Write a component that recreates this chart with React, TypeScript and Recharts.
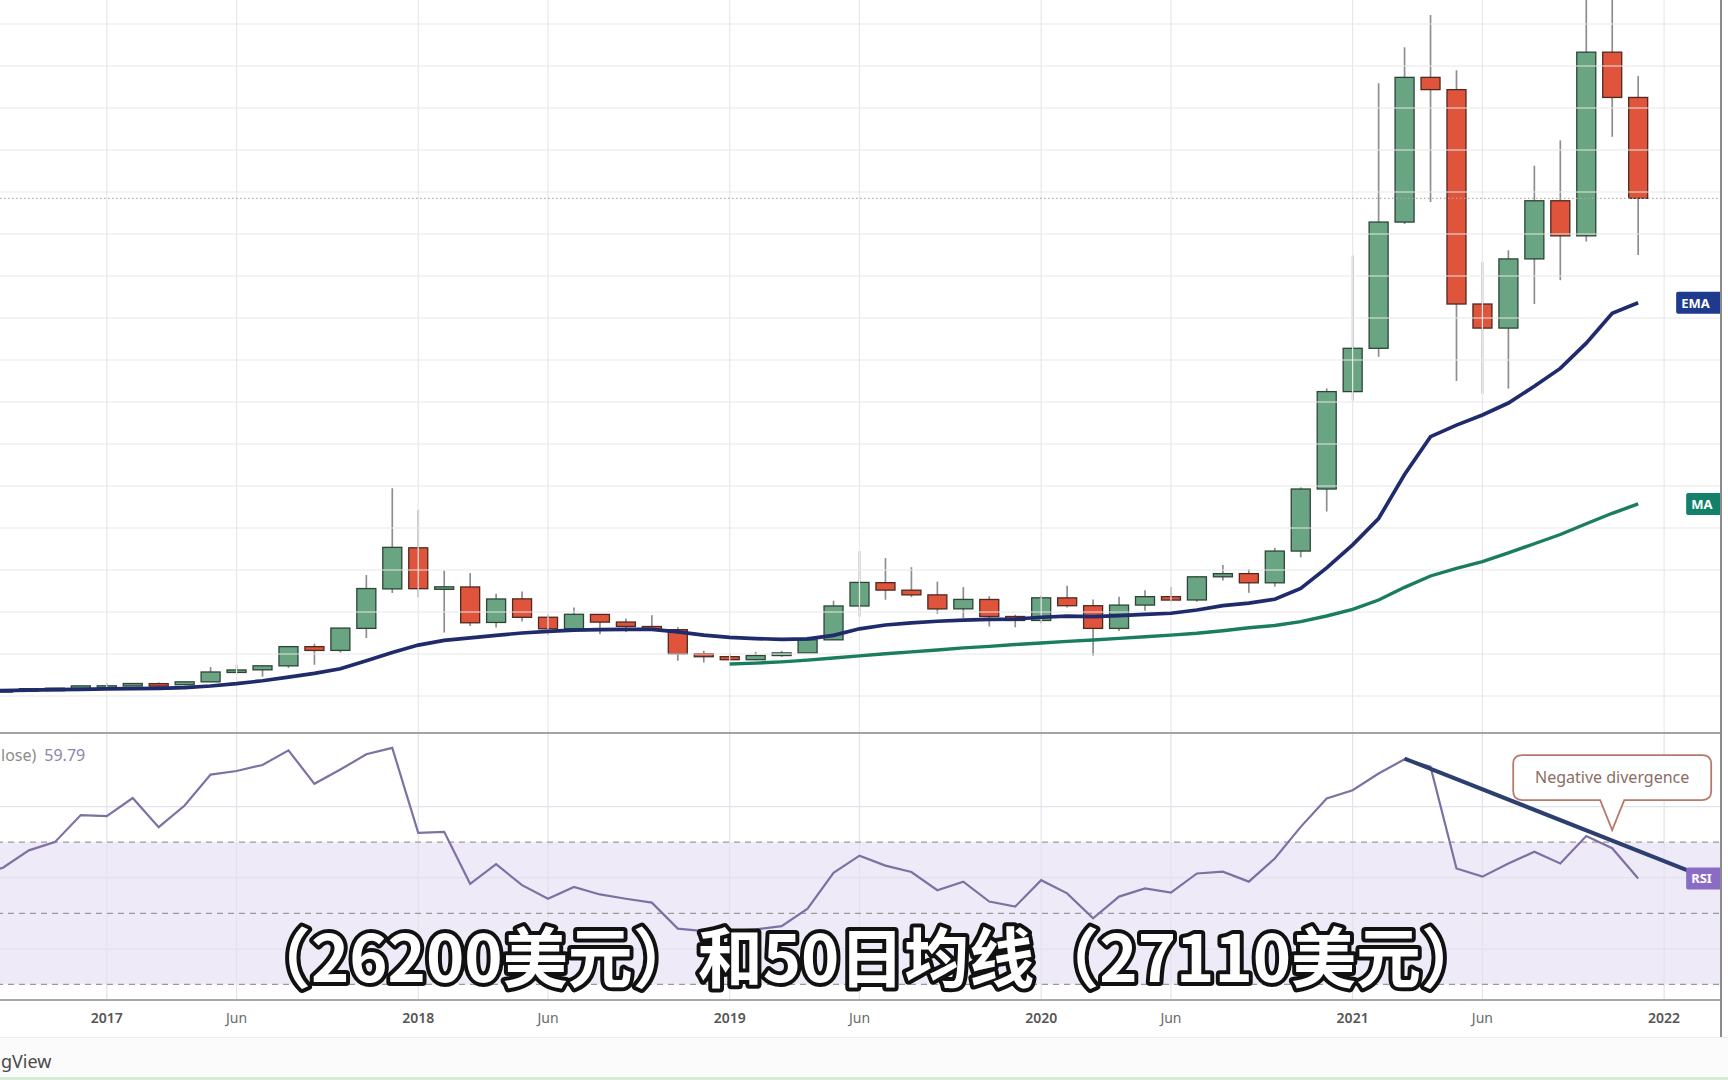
import React from 'react';
import {
  ComposedChart, Bar, Line, XAxis, YAxis, ReferenceLine, ReferenceArea, ReferenceDot,
} from 'recharts';

// ---------- categories (monthly candles) ----------
const months = [
  '2016-08', '2016-09', '2016-10', '2016-11', '2016-12',
  '2017-01', '2017-02', '2017-03', '2017-04', '2017-05', '2017-06', '2017-07', '2017-08', '2017-09', '2017-10', '2017-11', '2017-12',
  '2018-01', '2018-02', '2018-03', '2018-04', '2018-05', '2018-06', '2018-07', '2018-08', '2018-09', '2018-10', '2018-11', '2018-12',
  '2019-01', '2019-02', '2019-03', '2019-04', '2019-05', '2019-06', '2019-07', '2019-08', '2019-09', '2019-10', '2019-11', '2019-12',
  '2020-01', '2020-02', '2020-03', '2020-04', '2020-05', '2020-06', '2020-07', '2020-08', '2020-09', '2020-10', '2020-11', '2020-12',
  '2021-01', '2021-02', '2021-03', '2021-04', '2021-05', '2021-06', '2021-07', '2021-08', '2021-09', '2021-10', '2021-11', '2021-12',
  '2022-01', '2022-02', '2022-03',
];

// ---------- OHLC (USD) ----------
const opens = [
  624, 573, 609, 698, 743,
  963, 970, 1180, 1072, 1348, 2286, 2492, 2871, 4701, 4341, 6440, 10199,
  14112, 10237, 10385, 7003, 9251, 7500, 6411, 7769, 7044, 6619, 6318, 4025,
  3746, 3460, 3853, 4105, 5350, 8573, 10796, 10077, 9630, 8299, 9193, 7571,
  7194, 9346, 8600, 6438, 8659, 9463, 9145, 11352, 11655, 10780, 13804, 19713,
  28990, 33114, 45137, 58918, 57750, 37332, 35040, 41626, 47166, 43824, 61318, 57005,
];
const highs = [
  626, 628, 720, 753, 980,
  1191, 1204, 1292, 1356, 2763, 2981, 2917, 4737, 4975, 6470, 11517, 19783,
  17712, 11958, 11711, 9745, 9964, 7754, 8425, 7769, 7388, 7680, 6553, 4309,
  4109, 4210, 4296, 5642, 9074, 13796, 13130, 12273, 10898, 10370, 9505, 7743,
  9578, 10500, 9188, 9460, 10067, 10380, 11434, 12468, 12067, 14100, 19863, 29300,
  41950, 58350, 61780, 64854, 59600, 41330, 42448, 50500, 52920, 67000, 69000, 59041,
];
const lows = [
  533, 567, 604, 681, 742,
  756, 946, 886, 1061, 1348, 2166, 1838, 2671, 2972, 4138, 5519, 9819,
  9402, 6048, 6675, 6526, 7090, 5826, 6111, 5880, 6100, 6236, 3353, 3191,
  3401, 3400, 3733, 4096, 5350, 7564, 9163, 9421, 7830, 7446, 6617, 6540,
  6914, 8434, 3850, 6202, 8117, 8975, 8977, 11000, 9826, 10416, 13204, 17570,
  28130, 32300, 44950, 47044, 30000, 28800, 29278, 37332, 39600, 43283, 53256, 42000,
];
const closes = [
  573, 608, 698, 742, 963,
  971, 1190, 1071, 1348, 2286, 2480, 2875, 4703, 4338, 6468, 10233, 14156,
  10221, 10397, 6973, 9240, 7494, 6404, 7780, 7037, 6625, 6318, 4017, 3742,
  3457, 3854, 4105, 5350, 8574, 10817, 10085, 9630, 8293, 9199, 7569, 7193,
  9350, 8599, 6438, 8658, 9461, 9137, 11351, 11655, 10779, 13804, 19713, 28990,
  33114, 45137, 58918, 57750, 37332, 35040, 41626, 47166, 43824, 61318, 57005, 47400,
];

// ---------- moving averages ----------
const ema = [
  495, 510, 550, 600, 640,
  670, 700, 725, 800, 950, 1170, 1450, 1800, 2150, 2600, 3350, 4150,
  4850, 5300, 5530, 5780, 6000, 6150, 6280, 6320, 6340, 6350, 6100, 5800,
  5590, 5470, 5400, 5440, 5780, 6400, 6760, 6960, 7120, 7230, 7300, 7330,
  7500, 7600, 7560, 7650, 7780, 7880, 8190, 8600, 8850, 9210, 10250, 12200,
  14400, 16900, 21100, 24700, 25800, 26760, 27900, 29500, 31200, 33600, 36450, 37450,
];
const ma = [
  null, null, null, null, null,
  null, null, null, null, null, null, null, null, null, null, null, null,
  null, null, null, null, null, null, null, null, null, null, null, null,
  3050, 3130, 3250, 3420, 3620, 3820, 4020, 4200, 4380, 4580, 4730, 4900,
  5050, 5200, 5340, 5490, 5640, 5800, 5970, 6220, 6500, 6720, 7080, 7620,
  8250, 9143, 10350, 11430, 12150, 12790, 13640, 14500, 15380, 16400, 17400, 18290,
];

// ---------- RSI (14, close) ----------
const rsi = [
  60.5, 62.8, 67.7, 70.0, 77.6,
  77.3, 82.4, 74.2, 80.3, 89.0, 90.0, 91.7, 95.8, 86.4, 90.4, 94.7, 96.5,
  72.6, 72.9, 58.3, 63.8, 57.9, 54.1, 57.4, 55.3, 54.1, 53.0, 45.7, 45.0,
  45.0, 45.5, 46.4, 51.3, 61.4, 66.2, 63.4, 61.6, 56.5, 58.9, 53.3, 51.9,
  59.3, 55.6, 48.6, 54.7, 57.0, 55.8, 61.2, 61.7, 58.9, 65.4, 74.3, 82.3,
  84.6, 89.3, 93.3, 91.2, 62.6, 60.3, 64.0, 67.3, 64.0, 71.7, 68.3, 59.79,
];

// ---------- axes / ticks ----------
const tickMonths = ['2017-01', '2017-06', '2018-01', '2018-06', '2019-01', '2019-06', '2020-01', '2020-06', '2021-01', '2021-06', '2022-01'];
const tickTexts = ['2017', 'Jun', '2018', 'Jun', '2019', 'Jun', '2020', 'Jun', '2021', 'Jun', '2022'];
const priceGrid = [0, 4000, 8000, 12000, 16000, 20000, 24000, 28000, 32000, 36000, 40000, 44000, 48000, 52000, 56000, 60000, 64000];
const rsiGrid = [40, 60, 80];
const rsiBands = [30, 50, 70];
const rsiLast = 59.79;
const lastClose = 47400;
const trendStart = { x: '2021-03', y: 93.5 };
const trendEnd = { x: '2022-02', y: 61.8 };
const subtitle = '（26200美元）和50日均线（27110美元）';

const rows = months.map((key, i) => ({
  key,
  o: opens[i], h: highs[i], l: lows[i], c: closes[i],
  ema: ema[i], ma: ma[i], rsi: rsi[i],
}));

const lastKey = months[closes.length - 1];

const GREEN = '#6aa583';
const RED = '#e0543b';
const GRID = '#e8e8e8';

const candleRange = (d: any) => (d.h == null ? null : [d.l, d.h]);

const Candle = (props: any) => {
  const { x, y, width, height, payload } = props;
  if (!payload || payload.h == null || !isFinite(y) || !isFinite(height)) return <g />;
  let top = y;
  let hh = height;
  if (hh < 0) { top = y + hh; hh = -hh; }
  const k = hh / (payload.h - payload.l);
  const yOf = (v: number) => top + (payload.h - v) * k;
  const cx = x + width / 2;
  const up = payload.c >= payload.o;
  const y1 = yOf(Math.max(payload.o, payload.c));
  const y2 = yOf(Math.min(payload.o, payload.c));
  const bh = Math.max(y2 - y1, 2.5);
  return (
    <g>
      <line x1={cx} x2={cx} y1={top} y2={top + hh} stroke="#8e8e8e" strokeWidth={1.7} />
      <rect x={cx - 9.5} y={y1} width={19} height={bh}
        fill={up ? GREEN : RED} stroke={up ? '#2c4436' : '#4d2a22'} strokeWidth={1.3} />
    </g>
  );
};

const Tick = (props: any) => {
  const { x, y, payload } = props;
  const idx = tickMonths.indexOf(payload.value);
  if (idx < 0) return <g />;
  const txt = tickTexts[idx];
  const isYear = txt !== 'Jun';
  return (
    <text x={x} y={y + 15} textAnchor="middle" fontSize={14}
      fontFamily="'Noto Sans', sans-serif" fontWeight={isYear ? 600 : 400}
      fill={isYear ? '#555' : '#6a6a6a'}>{txt}</text>
  );
};

const tagShape = (dx: number, w: number, fill: string, label: string) => (p: any) => (
  <g>
    <rect x={p.cx + dx} y={p.cy - 11} width={w} height={22} rx={2} fill={fill} />
    <text x={p.cx + dx + 5} y={p.cy + 5} fill="#fff" fontSize={13} fontWeight={700}
      fontFamily="'Noto Sans', sans-serif">{label}</text>
  </g>
);

const calloutShape = (p: any) => {
  const cx = p.cx; const cy = p.cy;
  const L = cx - 99; const R = cx + 99; const T = cy - 75; const B = cy - 30; const r = 9;
  const d = `M ${L + r} ${T} H ${R - r} Q ${R} ${T} ${R} ${T + r} V ${B - r} Q ${R} ${B} ${R - r} ${B} `
    + `H ${cx + 12} L ${cx} ${cy} L ${cx - 12} ${B} H ${L + r} Q ${L} ${B} ${L} ${B - r} V ${T + r} Q ${L} ${T} ${L + r} ${T} Z`;
  return (
    <g>
      <path d={d} fill="#fff" stroke="#b67a68" strokeWidth={1.8} />
      <text x={cx} y={T + 28} textAnchor="middle" fontSize={16} fill="#8a6d64"
        fontFamily="'Noto Sans', sans-serif">Negative divergence</text>
    </g>
  );
};

const CHART_W = 1765;
const SHIFT = -36;

export default function App() {
  return (
    <div style={{ position: 'fixed', left: 0, top: 0, width: 1728, height: 1080, background: '#fff', overflow: 'hidden', fontFamily: "'Noto Sans', sans-serif" }}>
      <div style={{ position: 'absolute', left: 0, top: 0, width: 1721, height: 1037, overflow: 'hidden' }}>
        <div style={{ position: 'absolute', left: SHIFT, top: 0 }}>
          <ComposedChart width={CHART_W} height={733} data={rows} margin={{ top: 0, right: 0, bottom: 0, left: 0 }}>
            <XAxis dataKey="key" type="category" scale="band" hide />
            <YAxis type="number" hide domain={[-3524, 66286]} allowDataOverflow />
            {priceGrid.map((v) => (
              <ReferenceLine key={'pg' + v} y={v} stroke={GRID} strokeWidth={1.2} />
            ))}
            {tickMonths.map((m) => (
              <ReferenceLine key={'vg' + m} x={m} stroke={GRID} strokeWidth={1.2} />
            ))}
            <ReferenceLine y={lastClose} stroke="#b8a4a4" strokeWidth={1.2} strokeDasharray="1.5 2.5" />
            <Bar dataKey={candleRange} shape={Candle} barSize={20} isAnimationActive={false} />
            <Line type="linear" dataKey="ma" stroke="#1b7d5f" strokeWidth={3.4} dot={false} activeDot={false} isAnimationActive={false} />
            <Line type="linear" dataKey="ema" stroke="#1f2b6c" strokeWidth={3.7} dot={false} activeDot={false} isAnimationActive={false} />
            <ReferenceDot x={lastKey} y={ema[ema.length - 1]} shape={tagShape(38, 50, '#1d3a8e', 'EMA')} />
            <ReferenceDot x={lastKey} y={ma[ma.length - 1] as number} shape={tagShape(48, 44, '#13806a', 'MA')} />
          </ComposedChart>
        </div>
        <div style={{ position: 'absolute', left: SHIFT, top: 733 }}>
          <ComposedChart width={CHART_W} height={304} data={rows} margin={{ top: 0, right: 0, bottom: 0, left: 0 }}>
            <XAxis dataKey="key" type="category" scale="band" height={37} axisLine={false} tickLine={false} interval={0} tick={<Tick />} />
            <YAxis type="number" hide domain={[25.63, 100.68]} allowDataOverflow />
            <ReferenceArea y1={30} y2={70} fill="#efeaf8" fillOpacity={1} stroke="none" />
            {rsiGrid.map((v) => (
              <ReferenceLine key={'rg' + v} y={v} stroke="#e4e0ec" strokeWidth={1.2} />
            ))}
            {tickMonths.map((m) => (
              <ReferenceLine key={'rv' + m} x={m} stroke="#e4e2ea" strokeWidth={1.2} />
            ))}
            {rsiBands.map((v) => (
              <ReferenceLine key={'rb' + v} y={v} stroke="#9a9a9a" strokeWidth={1.2} strokeDasharray="6 5" />
            ))}
            <Line type="linear" dataKey="rsi" stroke="#7f70a3" strokeWidth={2.2} dot={false} activeDot={false} isAnimationActive={false} />
            <ReferenceLine segment={[trendStart, trendEnd]} stroke="#2c3f6f" strokeWidth={4} />
            <ReferenceDot x="2021-11" y={73.4} shape={calloutShape} />
            <ReferenceDot x={lastKey} y={rsiLast} shape={tagShape(48, 44, '#8a6cc4', 'RSI')} />
          </ComposedChart>
        </div>
      </div>

      {/* panel frames */}
      <div style={{ position: 'absolute', left: 0, top: 732, width: 1721, height: 2, background: '#a3a3a3' }} />
      <div style={{ position: 'absolute', left: 0, top: 999, width: 1721, height: 2, background: '#a8a8a8' }} />
      <div style={{ position: 'absolute', left: 1720, top: 0, width: 2, height: 1037, background: '#8a8a8a' }} />
      <div style={{ position: 'absolute', left: 0, top: 1037, width: 1728, height: 43, background: '#fbfbfb', borderTop: '1px solid #ececec' }} />
      <div style={{ position: 'absolute', left: 0, top: 1077, width: 1728, height: 3, background: '#d4ecd4' }} />
      <div style={{ position: 'absolute', left: 1, top: 1049, fontSize: 18, color: '#4a4a4a', whiteSpace: 'nowrap' }}>gView</div>

      {/* RSI legend */}
      <div style={{ position: 'absolute', left: 1, top: 744, fontSize: 16, color: '#8c8c8c', whiteSpace: 'nowrap' }}>
        lose)<span style={{ marginLeft: 8, color: '#8b84ad' }}>{rsiLast.toFixed(2)}</span>
      </div>

      {/* subtitle */}
      <svg width={1728} height={1080} style={{ position: 'absolute', left: 0, top: 0, pointerEvents: 'none' }}>
        <text x={866} y={982} textAnchor="middle" fontSize={65} fontWeight={700}
          fontFamily="'Noto Sans CJK SC', sans-serif" fill="#fff" stroke="#111"
          strokeWidth={8} strokeLinejoin="round" style={{ paintOrder: 'stroke' }}>{subtitle}</text>
      </svg>
    </div>
  );
}
